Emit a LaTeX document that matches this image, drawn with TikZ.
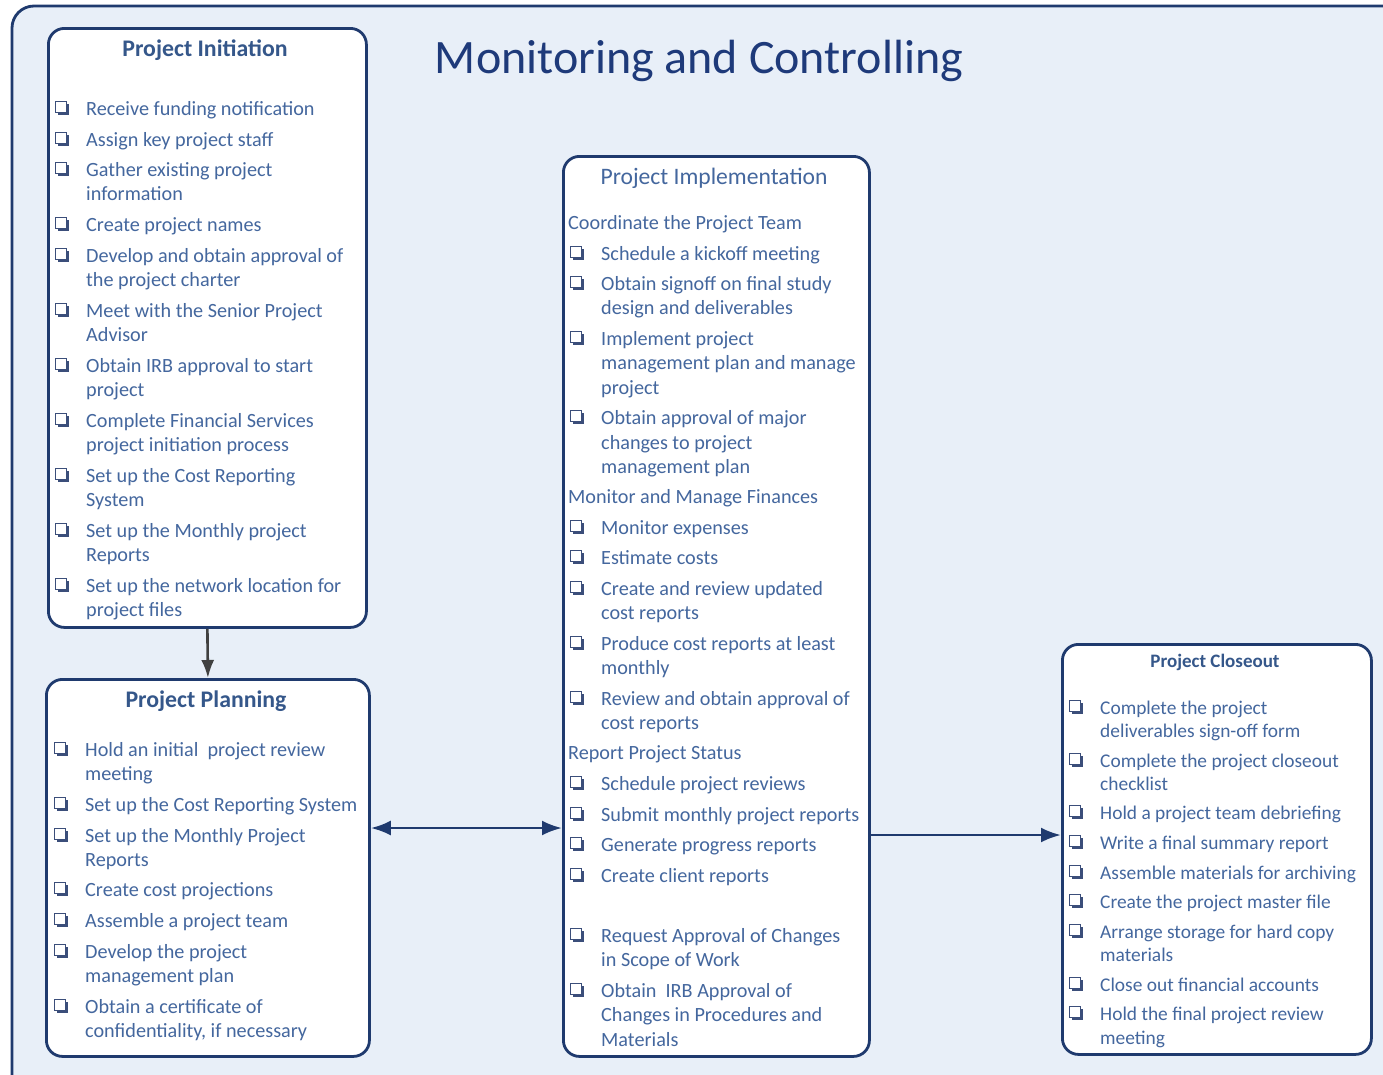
\documentclass[tikz,border=0pt]{standalone}
\usepackage{fontspec}
\setmainfont{Carlito}
\usetikzlibrary{arrows.meta}
\definecolor{navy}{HTML}{1F3A6E}
\definecolor{bgblue}{HTML}{E8EFF8}
\definecolor{itemblue}{HTML}{44679E}
\definecolor{headblue}{HTML}{35578A}
\definecolor{titleblue}{HTML}{1E3A7A}
\definecolor{cbcol}{HTML}{3B4E7A}
\definecolor{grayarrow}{HTML}{404040}
\newcount\lncnt
\newcommand\putline[3]{\global\advance\lncnt by 1\relax\node[txt,name=L\the\lncnt] at (#1,#2+6) {#3};}
\newcommand\putcb[2]{%
  \draw[cbcol, line width=1.2pt] (#1-6,#2-6) rectangle (#1+5,#2+5);
  \fill[cbcol] (#1-4,#2+5) rectangle (#1+7,#2+7.2);
  \fill[cbcol] (#1+5,#2-4) rectangle (#1+7.2,#2+7.2);}
\newcommand\chk[3]{\putcb{#1-24.5}{#2-1.5}\putline{#1}{#2}{#3}}
\begin{document}
\begin{tikzpicture}[x=1pt,y=-1pt,
  txt/.style={inner sep=0pt, text=itemblue, font=\fontsize{20.2}{24}\selectfont, anchor=base west},
  box/.style={draw=navy, line width=2.8pt, rounded corners=16pt, fill=white, anchor=north west, inner sep=0pt},
  hd/.style={font=\bfseries\fontsize{23.8}{28}\selectfont, text=headblue, inner sep=0pt, anchor=base},
  >={Latex[length=20pt,width=15pt]}]
\useasboundingbox (0,0) rectangle (1383,1074);
\clip (0,0) rectangle (1383,1074);
\draw[navy, line width=2.8pt, fill=bgblue, rounded corners=22pt] (12,6) rectangle (1420,1110);

\node[box, minimum width=318pt, minimum height=599pt] (init) at (47,27) {};
\node[box, minimum width=323pt, minimum height=377pt] (plan) at (45,678) {};
\node[box, minimum width=306pt, minimum height=900pt] (impl) at (562,155) {};
\node[box, minimum width=309pt, minimum height=410pt] (close) at (1061,643) {};

\coordinate (a1) at (0,828);
\coordinate (a2) at (0,835);
\draw[grayarrow, line width=2.6pt, -{Latex[length=18pt,width=13pt]}] (init.south) -- (plan.north);
\draw[navy, line width=2.8pt, <->] (plan.east |- a1) -- (impl.west |- a1);
\draw[navy, line width=2.8pt, ->] (impl.east |- a2) -- (close.west |- a2);

\node[font=\fontsize{48}{56}\selectfont, text=titleblue, inner sep=0pt, anchor=base] (main) at (699,73) {Monitoring and Controlling};
\node[hd] (tinit) at (205,56) {Project Initiation};
\node[hd] (tplan) at (206,707) {Project Planning};
\node[font=\fontsize{23.6}{28}\selectfont, text=itemblue, inner sep=0pt, anchor=base] (timpl) at (714,184) {Project Implementation};
\node[hd, font=\bfseries\fontsize{19}{23}\selectfont] (tclose) at (1215,667) {Project Closeout};

% Initiation
\chk{86}{109}{Receive funding notification}
\chk{86}{140}{Assign key project staff}
\chk{86}{170}{Gather existing project}
\putline{86}{194}{information}
\chk{86}{225}{Create project names}
\chk{86}{256}{Develop and obtain approval of}
\putline{86}{280}{the project charter}
\chk{86}{311}{Meet with the Senior Project}
\putline{86}{335}{Advisor}
\chk{86}{366}{Obtain IRB approval to start}
\putline{86}{390}{project}
\chk{86}{421}{Complete Financial Services}
\putline{86}{445}{project initiation process}
\chk{86}{476}{Set up the Cost Reporting}
\putline{86}{500}{System}
\chk{86}{531}{Set up the Monthly project}
\putline{86}{555}{Reports}
\chk{86}{586}{Set up the network location for}
\putline{86}{610}{project files}

% Planning
\chk{85}{750}{Hold an initial\ \ project review}
\putline{85}{774}{meeting}
\chk{85}{805}{Set up the Cost Reporting System}
\chk{85}{836}{Set up the Monthly Project}
\putline{85}{860}{Reports}
\chk{85}{890}{Create cost projections}
\chk{85}{921}{Assemble a project team}
\chk{85}{952}{Develop the project}
\putline{85}{976}{management plan}
\chk{85}{1007}{Obtain a certificate of}
\putline{85}{1031}{confidentiality, if necessary}

% Implementation
\putline{568}{223}{Coordinate the Project Team}
\chk{601}{254}{Schedule a kickoff meeting}
\chk{601}{284}{Obtain signoff on final study}
\putline{601}{308}{design and deliverables}
\chk{601}{339}{Implement project}
\putline{601}{363}{management plan and manage}
\putline{601}{388}{project}
\chk{601}{418}{Obtain approval of major}
\putline{601}{443}{changes to project}
\putline{601}{467}{management plan}
\putline{568}{497}{Monitor and Manage Finances}
\chk{601}{528}{Monitor expenses}
\chk{601}{558}{Estimate costs}
\chk{601}{589}{Create and review updated}
\putline{601}{613}{cost reports}
\chk{601}{644}{Produce cost reports at least}
\putline{601}{668}{monthly}
\chk{601}{699}{Review and obtain approval of}
\putline{601}{723}{cost reports}
\putline{568}{753}{Report Project Status}
\chk{601}{784}{Schedule project reviews}
\chk{601}{815}{Submit monthly project reports}
\chk{601}{845}{Generate progress reports}
\chk{601}{876}{Create client reports}
\chk{601}{936}{Request Approval of Changes}
\putline{601}{960}{in Scope of Work}
\chk{601}{991}{Obtain\ \ IRB Approval of}
\putline{601}{1015}{Changes in Procedures and}
\putline{601}{1040}{Materials}

% Closeout
\tikzset{txt/.append style={font=\fontsize{19.4}{23}\selectfont}}
\chk{1100}{708}{Complete the project}
\putline{1100}{731}{deliverables sign-off form}
\chk{1100}{761}{Complete the project closeout}
\putline{1100}{784}{checklist}
\chk{1100}{813}{Hold a project team debriefing}
\chk{1100}{843}{Write a final summary report}
\chk{1100}{873}{Assemble materials for archiving}
\chk{1100}{902}{Create the project master file}
\chk{1100}{932}{Arrange storage for hard copy}
\putline{1100}{955}{materials}
\chk{1100}{985}{Close out financial accounts}
\chk{1100}{1014}{Hold the final project review}
\putline{1100}{1038}{meeting}
\end{tikzpicture}
\end{document}
